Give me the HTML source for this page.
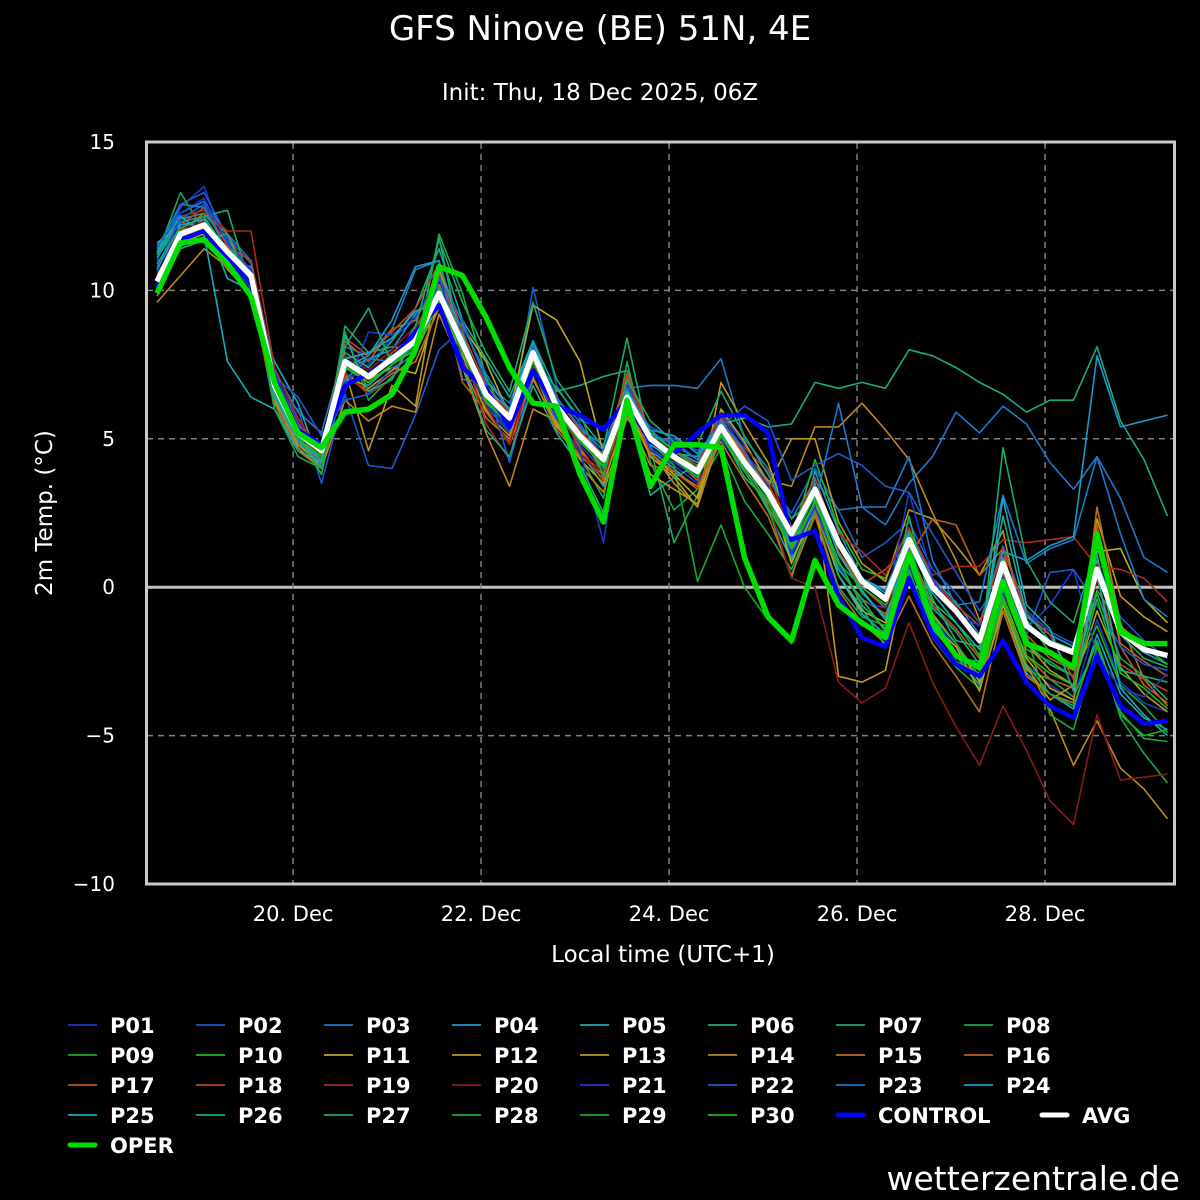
<!DOCTYPE html>
<html><head><meta charset="utf-8">
<style>
html,body{margin:0;padding:0;background:#000;}
svg{display:block;}
text{font-family:"DejaVu Sans","Liberation Sans",sans-serif;fill:#fff;}
</style></head>
<body>
<svg id="chart" width="1200" height="1200" viewBox="0 0 1200 1200">
<rect x="0" y="0" width="1200" height="1200" fill="#000"/>
<text x="600" y="40" font-size="34" text-anchor="middle">GFS Ninove (BE) 51N, 4E</text>
<text x="600" y="100" font-size="23" text-anchor="middle">Init: Thu, 18 Dec 2025, 06Z</text>
<text transform="translate(52,513) rotate(-90)" font-size="23" text-anchor="middle">2m Temp. (°C)</text>
<text x="663" y="962" font-size="23" text-anchor="middle">Local time (UTC+1)</text>
<text x="1180" y="1190" font-size="33" text-anchor="end">wetterzentrale.de</text>
<g id="grid"></g>
<g id="series"></g>
<rect x="146.5" y="142" width="1028" height="742" fill="none" stroke="#c8c8c8" stroke-width="3"/>
<g id="axes"></g>
<g id="legend"></g>
</svg>
<script>
const yTicks=[15,10,5,0,-5,-10];
const xTickLabels=["20. Dec","22. Dec","24. Dec","26. Dec","28. Dec"];
const xTickSteps=[5.79,13.79,21.79,29.79,37.79];
const memberNames=["P01","P02","P03","P04","P05","P06","P07","P08","P09","P10","P11","P12","P13","P14","P15","P16","P17","P18","P19","P20","P21","P22","P23","P24","P25","P26","P27","P28","P29","P30"];
const memberColors=["#1a3acc","#1a5acc","#1a7acc","#1a9acc","#1aaabb","#1aaa88","#1aaa66","#1aaa44","#1aaa2a","#1abb1a","#bbaa1a","#c0991a","#b8991a","#bb881a","#bb701a","#bb601a","#bb5a1a","#bb441a","#aa2a1a","#8a1a1a","#1a3acc","#1a5acc","#1a7acc","#1a9acc","#1aaabb","#1aaa88","#1aaa66","#1aaa44","#1aaa2a","#1abb1a"];
const P01=[10.6,12.8,13.5,11.4,10.2,7.2,5.6,4.3,6.9,7.5,8.4,9.0,10.4,7.9,6.3,5.4,8.0,5.9,4.8,3.9,6.5,4.7,4.1,3.5,5.0,3.9,2.9,1.2,2.8,0.8,-0.6,-1.4,0.7,-1.1,-2.0,-3.1,-0.4,-2.6,-3.3,-3.8,-1.1,-3.2,-3.9,-4.2];
const P02=[11.0,12.9,13.3,11.8,10.9,6.4,6.0,3.5,6.5,4.1,4.0,5.8,8.0,8.7,6.1,5.2,10.1,6.8,5.5,4.4,6.9,5.1,4.9,4.3,5.9,4.8,3.6,2.5,4.0,2.6,1.0,1.5,2.2,0.6,-0.2,-1.2,1.4,-0.8,-1.5,-1.9,0.4,-1.0,-1.8,-2.4];
const P03=[11.5,12.6,13.0,11.9,11.0,7.3,5.9,5.2,8.1,7.8,8.7,10.7,11.0,7.0,6.9,6.2,8.2,6.0,5.3,4.8,6.7,6.8,6.8,6.7,7.7,5.0,4.0,2.3,3.6,2.6,2.7,2.1,3.5,4.4,5.9,5.2,6.1,5.5,4.2,3.3,4.4,3.0,1.0,0.5];
const P04=[11.1,12.3,12.5,11.0,10.8,6.9,5.5,4.4,7.3,7.7,8.0,9.2,10.2,8.4,6.6,5.8,7.6,6.3,5.0,4.5,6.2,5.3,4.6,4.2,5.6,4.5,3.5,1.0,3.9,1.9,0.3,-0.1,1.9,0.3,-0.5,-1.6,1.0,-1.0,-1.6,-2.0,0.9,-1.3,-2.2,-2.6];
const P05=[11.6,12.2,12.4,10.4,10.0,7.6,6.2,4.0,7.0,6.8,7.5,8.6,10.6,8.9,7.0,6.0,7.4,5.6,4.6,3.4,6.1,4.6,4.0,3.3,5.3,4.0,2.6,0.9,2.6,0.4,-0.9,-1.6,0.5,-1.4,-2.3,-3.3,-0.8,-2.9,-3.6,-4.1,-1.6,-3.6,-4.4,-4.8];
const P06=[11.2,12.4,12.6,11.6,10.4,6.2,5.4,4.2,7.9,7.4,8.3,9.4,11.4,9.0,7.7,6.4,8.3,6.6,6.8,7.1,7.3,5.1,4.5,4.4,5.5,5.7,5.4,5.5,6.9,6.7,6.9,6.7,8.0,7.8,7.4,6.9,6.5,5.9,6.3,6.3,8.1,5.6,4.3,2.4];
const P07=[11.3,12.0,12.5,12.7,10.1,6.0,4.9,4.0,8.8,7.9,8.1,8.0,11.8,8.0,6.6,5.6,7.7,6.7,5.7,4.7,8.4,4.7,1.5,3.1,5.1,4.3,2.7,0.3,3.0,1.2,-0.2,-1.0,1.1,-0.7,-1.5,-2.6,0.2,-1.9,-2.6,-3.0,-0.2,-2.4,-3.0,-3.2];
const P08=[11.2,13.3,12.0,11.5,10.6,6.6,5.3,4.5,8.6,6.3,7.1,7.8,11.9,9.9,7.1,5.4,7.5,5.8,4.4,3.0,7.6,4.2,2.6,3.3,4.7,2.9,1.8,0.6,2.5,0.0,-1.0,-1.3,1.3,-1.7,-2.7,-3.4,-0.6,-2.8,-3.1,-3.7,-1.9,-4.4,-5.6,-6.6];
const P09=[10.1,11.9,12.1,11.2,10.4,6.7,5.0,4.7,7.4,7.0,7.6,8.1,9.7,8.0,6.4,5.6,7.8,6.2,4.9,4.1,6.6,4.9,4.1,0.2,2.1,0.0,-1.1,-1.9,0.9,-0.6,-1.3,-1.5,0.6,-1.6,-2.5,-2.9,-0.1,-2.1,-2.5,-3.0,-1.3,-3.3,-4.0,-4.9];
const P10=[10.4,12.1,12.3,11.3,10.6,6.8,5.1,4.5,7.7,7.2,7.8,8.4,10.0,8.3,6.4,5.5,8.0,6.0,5.0,4.2,6.5,5.0,4.3,3.8,5.3,4.1,3.2,1.6,4.3,2.0,0.6,0.3,2.0,-0.5,-1.2,-2.3,0.9,-1.1,-2.2,-2.7,-0.1,-1.3,-2.0,-2.6];
const P11=[10.0,11.6,11.9,11.4,10.4,6.6,5.1,3.8,7.6,7.0,7.4,7.2,9.6,8.8,7.6,5.8,9.5,9.0,7.6,4.5,6.0,4.5,3.8,3.0,6.0,4.9,3.5,0.8,2.7,0.4,-0.8,-1.2,0.9,-0.9,-1.9,-3.2,-0.3,-2.4,-3.4,-3.8,1.2,1.3,-0.4,-1.2];
const P12=[9.9,11.7,12.0,11.1,10.1,6.3,4.8,4.1,7.2,6.7,7.3,7.9,9.6,7.8,5.9,5.1,7.4,5.4,4.6,3.6,6.0,4.4,3.7,2.7,6.9,5.5,4.2,2.0,3.2,-3.0,-3.2,-2.8,1.0,-1.3,-2.0,-3.5,-0.6,-2.7,-3.8,-3.3,2.3,-0.3,-1.0,-1.5];
const P13=[10.2,11.8,12.1,11.0,10.3,6.5,5.0,4.1,7.3,4.6,6.8,6.1,10.7,8.6,6.0,4.8,7.0,5.5,4.3,3.5,5.9,3.8,3.3,2.8,5.6,4.4,3.4,5.0,5.0,2.2,0.8,0.2,2.6,2.3,1.4,0.4,1.9,-1.9,-2.8,-3.3,-0.8,-2.7,-3.6,-4.2];
const P14=[9.6,10.5,11.4,10.8,9.8,6.4,4.7,4.0,6.3,5.6,6.1,5.9,9.2,7.4,5.2,3.4,6.0,5.6,4.1,3.2,5.7,4.6,3.5,2.7,5.2,4.5,3.6,3.4,5.4,5.4,6.2,5.3,4.3,2.5,0.9,-1.1,-0.4,-2.6,-4.1,-6.0,-4.5,-6.1,-6.8,-7.8];
const P15=[9.8,11.5,11.8,10.7,9.9,6.2,4.6,4.0,7.1,6.6,7.2,7.6,9.4,7.5,5.7,5.0,7.1,5.3,4.4,3.8,5.8,4.1,3.9,3.4,4.9,3.6,2.4,0.4,2.4,-0.1,-1.2,-1.9,-0.3,-1.9,-3.0,-4.2,-0.8,-3.0,-3.6,-3.9,2.7,-1.2,-3.1,-4.0];
const P16=[10.0,11.8,12.4,11.2,10.2,6.6,5.0,4.2,8.3,7.6,8.7,9.0,10.6,8.3,6.7,5.8,7.9,6.1,5.2,3.8,7.1,4.8,4.3,3.6,5.7,4.4,3.1,1.3,2.6,0.6,-0.4,-0.9,1.0,2.3,2.1,0.4,1.3,-2.3,-3.1,-3.4,2.1,-1.9,-2.5,-3.0];
const P17=[10.5,12.0,12.6,11.9,10.4,6.9,5.3,4.1,7.5,7.0,7.9,8.5,10.2,6.9,5.9,4.9,7.6,6.1,4.7,3.6,6.3,4.5,3.9,3.3,5.4,4.0,2.8,1.4,3.4,1.2,0.0,-0.7,1.3,-0.6,-1.4,-2.4,0.5,-1.6,-2.4,-2.8,1.7,-2.0,-3.3,-3.9];
const P18=[10.3,12.2,12.8,11.5,11.0,7.1,5.5,4.6,8.4,7.8,8.6,9.4,10.9,8.6,6.8,5.9,8.0,6.4,5.3,4.4,7.2,5.2,4.6,4.1,5.9,4.5,3.5,1.9,3.7,1.4,0.1,0.6,1.5,0.2,-0.6,-1.3,1.3,-0.9,-1.6,-3.1,0.3,-2.6,-3.1,-3.5];
const P19=[10.7,12.5,12.7,12.0,12.0,7.4,5.7,4.5,7.2,6.5,7.0,8.7,9.8,8.1,5.5,4.3,7.7,6.5,4.5,3.9,7.0,5.1,4.4,4.0,5.5,4.7,3.9,1.7,3.1,1.8,1.2,0.4,2.0,0.4,0.7,0.7,1.6,1.5,1.6,1.7,0.7,0.6,0.3,-0.5];
const P20=[10.4,12.1,12.3,11.4,10.5,6.7,5.2,4.4,7.8,7.3,8.0,8.8,10.1,8.0,6.1,4.8,7.5,5.7,4.5,3.7,6.0,4.9,4.2,3.9,5.3,3.9,2.9,0.3,0.0,-3.2,-3.9,-3.4,-1.2,-3.2,-4.7,-6.0,-4.0,-5.5,-7.2,-8.0,-4.3,-6.5,-6.4,-6.3];
const P21=[10.2,12.6,13.1,11.6,10.7,7.0,5.4,4.5,6.6,8.6,8.5,9.1,10.5,7.6,6.2,5.3,7.3,5.7,4.6,1.5,6.8,4.6,4.2,3.7,5.8,4.6,3.4,1.1,2.7,0.7,-0.5,-0.7,3.2,0.3,-0.9,-1.3,-0.2,-1.4,-0.6,0.6,-2.3,-3.4,-3.7,-2.9];
const P22=[10.8,12.4,12.9,11.7,10.6,7.1,6.4,5.1,6.3,6.5,7.4,7.8,10.4,9.0,6.9,4.2,7.2,6.3,5.6,5.4,6.3,5.4,5.0,4.6,5.4,6.1,5.6,3.6,4.1,4.5,4.1,3.4,3.2,1.8,0.5,-0.8,0.4,-1.6,0.5,0.6,-0.6,-2.0,-2.6,-2.8];
const P23=[11.4,12.9,12.8,11.3,10.5,6.7,5.1,4.1,7.0,7.7,7.6,8.0,9.7,8.8,7.2,5.9,8.1,6.4,5.4,4.6,6.7,5.2,4.8,4.3,5.6,4.6,3.0,1.3,2.8,6.2,2.7,2.7,4.4,0.9,-0.6,-0.5,3.1,0.8,1.3,1.6,4.4,1.8,-0.4,-1.0];
const P24=[10.7,12.2,12.4,11.1,10.1,6.4,4.9,4.3,7.4,7.8,9.0,10.8,11.0,8.3,6.7,6.0,8.3,6.2,5.1,4.3,6.6,5.3,5.1,4.5,5.5,4.3,3.3,1.5,3.4,1.6,0.3,-0.2,1.7,-0.1,-0.9,-1.9,1.2,0.9,1.4,1.7,7.8,5.4,5.6,5.8];
const P25=[11.3,12.5,11.9,7.6,6.4,6.0,4.6,4.2,7.7,7.9,8.4,9.3,9.6,8.5,6.5,5.5,7.7,6.0,5.1,4.4,6.6,4.8,4.3,3.8,5.4,4.3,3.1,1.5,3.3,1.1,-0.1,-1.1,1.4,-0.2,-1.2,-2.1,3.0,-0.6,-1.4,-3.5,0.5,-3.4,-4.3,-5.0];
const P26=[10.0,11.4,11.7,11.9,10.0,6.5,5.0,4.3,8.5,6.6,7.0,8.5,9.5,7.5,5.3,4.4,6.8,5.2,4.1,2.5,6.0,3.1,3.7,4.1,5.2,3.7,2.9,1.7,3.5,0.4,-0.7,-2.0,1.8,-0.4,-1.8,-2.0,2.4,-0.9,-1.8,-2.1,1.1,-2.8,-3.0,-3.8];
const P27=[10.9,12.1,12.5,11.3,10.3,6.8,5.1,3.8,8.1,9.4,7.5,8.8,11.7,9.6,7.9,6.6,9.6,7.0,5.9,3.7,7.0,5.6,4.9,4.8,6.6,5.1,3.8,2.3,3.0,0.6,-0.4,-1.5,2.4,-0.9,-2.4,-2.5,4.7,0.9,-0.5,-1.2,1.4,-1.6,-2.4,-2.7];
const P28=[10.3,11.9,12.2,11.3,10.6,6.0,4.4,4.0,7.5,6.9,7.5,8.2,10.1,8.2,6.2,5.6,7.8,6.2,5.0,4.0,6.4,5.0,4.5,3.8,5.2,4.0,2.9,1.4,3.1,0.8,0.0,-0.6,1.4,-1.0,-1.9,-3.0,-0.3,-2.6,-3.6,-4.0,-1.8,-4.2,-5.1,-5.2];
const P29=[10.1,11.8,12.0,11.2,10.3,6.9,5.3,4.7,7.6,7.1,7.6,8.2,9.9,8.1,6.4,5.7,7.7,6.1,5.2,4.2,6.3,5.2,4.6,4.0,5.5,4.2,3.0,1.6,3.2,1.4,0.2,-0.5,1.5,-1.1,-2.3,-2.8,0.2,-1.6,-4.3,-4.8,-2.0,-4.3,-5.0,-4.8];
const P30=[10.2,11.6,11.8,11.0,10.1,6.7,5.0,4.4,7.4,6.9,7.5,8.0,9.6,7.9,6.3,5.4,7.6,6.0,4.9,4.1,6.2,4.9,4.3,3.7,5.1,3.9,2.7,1.3,2.9,0.9,-0.6,-1.4,1.0,-1.5,-2.6,-3.0,-0.5,-2.3,-2.9,-3.3,-0.4,-2.9,-3.4,-4.1];
const CONTROL=[10.1,11.7,12.0,11.1,10.2,7.0,5.3,4.8,6.8,7.2,7.7,8.6,9.5,7.4,6.7,5.4,7.3,6.1,5.8,5.3,6.3,4.9,4.5,5.2,5.8,5.8,5.2,1.6,1.9,-0.3,-1.7,-2.0,0.3,-1.6,-2.6,-3.0,-1.8,-3.2,-4.0,-4.4,-2.3,-4.0,-4.6,-4.5];
const AVG=[10.3,11.9,12.2,11.3,10.5,6.8,5.2,4.6,7.6,7.1,7.7,8.3,9.9,8.2,6.5,5.7,7.9,6.1,5.1,4.3,6.4,5.0,4.4,3.9,5.4,4.2,3.2,1.8,3.3,1.5,0.2,-0.4,1.6,0.0,-0.8,-1.8,0.8,-1.3,-1.9,-2.2,0.6,-1.5,-2.1,-2.3];
const OPER=[9.9,11.6,11.7,10.9,9.8,6.9,5.2,4.7,5.9,6.0,6.5,8.0,10.8,10.5,9.1,7.4,6.2,6.1,3.8,2.2,6.3,3.4,4.8,4.8,4.7,1.0,-1.0,-1.8,0.9,-0.6,-1.2,-1.7,1.1,-1.2,-2.3,-2.7,0.2,-1.9,-2.2,-2.7,1.8,-1.5,-1.9,-1.9];
const members=[P01,P02,P03,P04,P05,P06,P07,P08,P09,P10,P11,P12,P13,P14,P15,P16,P17,P18,P19,P20,P21,P22,P23,P24,P25,P26,P27,P28,P29,P30];

const NS="http://www.w3.org/2000/svg";
const X0=157, DX=23.5, Y15=142, Ym10=884;
function xs(i){return X0+DX*i;}
function ys(v){return Y15+(15-v)*(Ym10-Y15)/25;}
function mk(tag,attrs,parent){const e=document.createElementNS(NS,tag);for(const k in attrs)e.setAttribute(k,attrs[k]);parent.appendChild(e);return e;}
const grid=document.getElementById('grid'), axes=document.getElementById('axes'), series=document.getElementById('series'), legend=document.getElementById('legend');

yTicks.forEach(t=>{
  const y=ys(t);
  if(t!==15&&t!==-10&&t!==0){
    const l=mk('line',{x1:147,x2:1174,y1:y,y2:y,stroke:'#808080','stroke-width':1.5,'stroke-dasharray':'6,5'},grid);
    
    
  }
  const tx=mk('text',{x:115,y:y+7,'font-size':20,'text-anchor':'end'},axes);
  tx.textContent=String(t).replace('-','−');
  
  
});
const zl=mk('line',{x1:147,x2:1174,y1:ys(0),y2:ys(0),stroke:'#c0c0c0','stroke-width':3},grid);


xTickSteps.forEach((s,k)=>{
  const x=xs(s);
  const l=mk('line',{x1:x,x2:x,y1:143,y2:883,stroke:'#808080','stroke-width':1.5,'stroke-dasharray':'6,5'},grid);
  
  
  const tx=mk('text',{x:x,y:921,'font-size':21,'text-anchor':'middle'},axes);
  tx.textContent=xTickLabels[k];
  
  
});
function pts(arr){return arr.map((v,i)=>xs(i).toFixed(1)+','+ys(v).toFixed(1)).join(' ');}
members.forEach((arr,m)=>{
  const p=mk('polyline',{points:pts(arr),fill:'none',stroke:memberColors[m],'stroke-width':1.6,'stroke-linejoin':'round'},series);
  
  
});
const pc=mk('polyline',{points:pts(CONTROL),fill:'none',stroke:'#0000ff','stroke-width':4.5,'stroke-linejoin':'round'},series);


const pa=mk('polyline',{points:pts(AVG),fill:'none',stroke:'#ffffff','stroke-width':5.5,'stroke-linejoin':'round'},series);


const po=mk('polyline',{points:pts(OPER),fill:'none',stroke:'#00dd00','stroke-width':5.5,'stroke-linejoin':'round'},series);



const legNames=memberNames.concat(["CONTROL","AVG","OPER"]);
const legColors=memberColors.concat(["#0000ff","#ffffff","#00dd00"]);
const legX=[68,196,324,452,580,708,836,964];
legNames.forEach((n,k)=>{
  const col=k%8, row=Math.floor(k/8);
  let x=legX[col];
  if(n==="AVG") x=1040;
  const y=1025+row*30;
  const g=mk('g',{},legend);
  
  
  const thick=k>=30;
  mk('line',{x1:x+(thick?2:0),x2:x+(thick?27:29),y1:y,y2:y,stroke:legColors[k],'stroke-width':thick?5:1.8,'stroke-linecap':thick?'round':'butt'},g);
  const t=mk('text',{x:x+42,y:y+8,'font-size':21,'font-weight':'bold'},g);
  t.textContent=n;
});
</script>
</body></html>
